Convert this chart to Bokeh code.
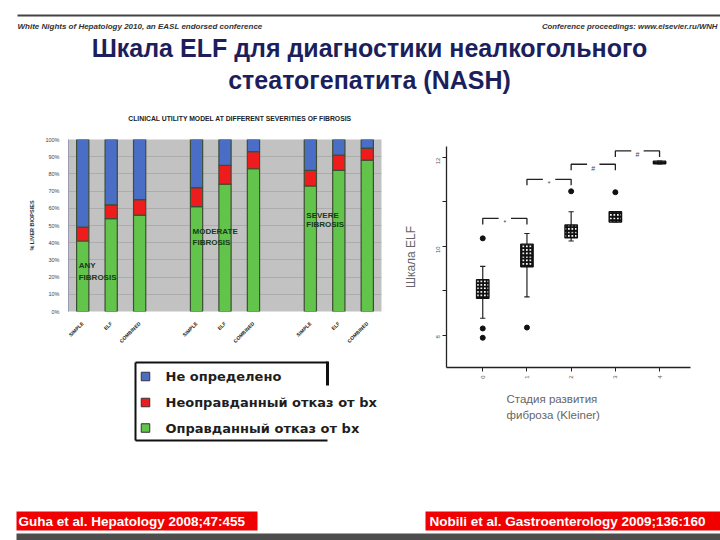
import math
from bokeh.plotting import figure
from bokeh.models import (Range1d, FactorRange, FixedTicker, PrintfTickFormatter,
                          Title, ColumnDataSource)
from bokeh.layouts import column, row
from bokeh.embed import file_html
from bokeh.resources import INLINE
from bokeh.core.properties import value

# ---------------- data ----------------
groups = ["ANY FIBROSIS", "MODERATE FIBROSIS", "SEVERE FIBROSIS"]
methods = ["SIMPLE", "ELF", "COMBINED"]
justified = [41, 54, 56, 61, 74, 83, 73, 82, 88]      # green
unjustified = [8, 8, 9, 11, 11, 10, 9, 9, 7]          # red
undetermined = [51, 38, 35, 28, 15, 7, 18, 9, 5]      # blue
stack_keys = ["justified", "unjustified", "undetermined"]
stack_colors = ["#62c44a", "#ee1c1c", "#4a6ec6"]
legend_labels = ["Не определено", "Неоправданный отказ от bx", "Оправданный отказ от bx"]
legend_colors = ["#4a6ec6", "#ee1c1c", "#62c44a"]
pct_ticks = [0, 10, 20, 30, 40, 50, 60, 70, 80, 90, 100]

stages = [0, 1, 2, 3, 4]
elf_q1 = [8.83, 9.54, 10.19, 10.55, 11.86]
elf_q3 = [9.25, 10.05, 10.48, 10.78, 11.92]
elf_med = [9.02, 9.78, 10.33, 10.66, 11.89]
elf_wlo = [8.38, 8.86, 10.12, 10.55, 11.86]
elf_whi = [9.55, 10.29, 10.78, 10.78, 11.92]
out_stage = [0, 0, 0, 1, 2, 3]
out_elf = [10.18, 8.15, 7.94, 8.17, 11.24, 11.22]
cmp_from = [0, 1, 2, 3]
cmp_to = [1, 2, 3, 4]
cmp_level = [10.63, 11.51, 11.85, 12.15]
cmp_mark = ["*", "*", "#", "#"]
elf_ticks = [8, 9, 10, 11, 12]

FONT = "Liberation Sans"


def blank(w, h, x0, x1, y0, y1, **kw):
    p = figure(width=w, height=h, x_range=Range1d(x0, x1), y_range=Range1d(y1, y0),
               x_axis_type=None, y_axis_type=None, min_border=0,
               toolbar_location=None, output_backend="svg",
               outline_line_color=None, background_fill_color="white",
               border_fill_color="white", **kw)
    return p


# ---------------- top (header + title) ----------------
top = blank(720, 130, 0, 720, 0, 130)
top.segment(x0=[17], y0=[15], x1=[720], y1=[15], line_width=2, line_color="#444444")
top.text(x=[17], y=[26], text=["White Nights of Hepatology 2010, an EASL endorsed conference"],
         text_font=value(FONT), text_font_size="8px", text_font_style="bold italic",
         text_color="#333333", text_baseline="middle", text_align="left")
top.text(x=[717], y=[26], text=["Conference proceedings: www.elsevier.ru/WNH"],
         text_font=value(FONT), text_font_size="7.8px", text_font_style="bold italic",
         text_color="#333333", text_baseline="middle", text_align="right")
top.text(x=[369, 369], y=[47, 79],
         text=["Шкала ELF для диагностики неалкогольного", "стеатогепатита (NASH)"],
         text_font=value(FONT), text_font_size="25px", text_font_style="bold",
         text_color="#1c1f5c", text_baseline="middle", text_align="center")
top.text(x=[239.5], y=[118], text=["CLINICAL UTILITY MODEL AT DIFFERENT SEVERITIES OF FIBROSIS"],
         text_font=value(FONT), text_font_size="6.8px", text_font_style="bold",
         text_color="#222222", text_baseline="middle", text_align="center")

# ---------------- stacked bar chart ----------------
factors = [(g, m) for g in groups for m in methods]
src = ColumnDataSource(dict(x=factors, justified=justified,
                            unjustified=unjustified, undetermined=undetermined))
bar = figure(width=400, height=218,
             x_range=FactorRange(factors=factors, group_padding=1.0, factor_padding=0.0,
                                 range_padding=0.0),
             y_range=Range1d(0, 100), toolbar_location=None, output_backend="svg",
             background_fill_color="#c2c2c2", border_fill_color="white",
             outline_line_color=None)
bar.min_border_left = 68
bar.min_border_right = 19
bar.min_border_top = 9
bar.min_border_bottom = 35
bar.vbar_stack(stack_keys, x="x", width=0.43, color=stack_colors, source=src,
               line_color="#3c4e34", line_width=1.2)
bar.xgrid.grid_line_color = None
bar.ygrid.ticker = FixedTicker(ticks=pct_ticks)
bar.ygrid.grid_line_color = "#acacac"
bar.ygrid.grid_line_width = 1
bar.yaxis.ticker = FixedTicker(ticks=pct_ticks)
bar.yaxis.formatter = PrintfTickFormatter(format="%d%%")
bar.yaxis.major_label_text_font_size = "5.5px"
bar.yaxis.major_label_text_font = FONT
bar.yaxis.major_label_text_color = "#444444"
bar.yaxis.major_tick_line_color = None
bar.yaxis.minor_tick_line_color = None
bar.yaxis.axis_line_color = "#9a9ab0"
bar.yaxis.major_label_standoff = 3
bar.yaxis.axis_label = "% LIVER BIOPSIES"
bar.yaxis.axis_label_text_font_size = "5.5px"
bar.yaxis.axis_label_text_font_style = "bold"
bar.yaxis.axis_label_text_font = FONT
bar.yaxis.axis_label_text_color = "#333333"
bar.yaxis.axis_label_standoff = 7
bar.xaxis.major_label_orientation = math.pi / 4
bar.xaxis.major_label_text_font_size = "5px"
bar.xaxis.major_label_text_font_style = "bold"
bar.xaxis.major_label_text_font = FONT
bar.xaxis.major_label_text_color = "#222222"
bar.xaxis.major_tick_line_color = None
bar.xaxis.minor_tick_line_color = None
bar.xaxis.axis_line_color = None
bar.xaxis.major_label_standoff = 5
bar.xaxis.group_text_font_size = "0px"
bar.xaxis.group_text_alpha = 0
bar.xaxis.separator_line_color = None

first_of_group = [(g, methods[0]) for g in groups]
bar.text(x=first_of_group, y=[26.6, 46.7, 56.1], text=[g.split()[0] for g in groups],
         x_offset=-4, text_font=value(FONT), text_font_size="8px", text_font_style="bold",
         text_color="#183a18", text_baseline="middle", text_align="left")
bar.text(x=first_of_group, y=[19.9, 40.4, 50.6], text=[g.split()[1] for g in groups],
         x_offset=-4, text_font=value(FONT), text_font_size="8px", text_font_style="bold",
         text_color="#183a18", text_baseline="middle", text_align="left")

# ---------------- legend (same side borders as the bar chart, 1 px = 1 unit) ----------------
leg = figure(width=400, height=94, x_range=Range1d(68, 381), y_range=Range1d(442, 348),
             x_axis_type=None, y_axis_type=None, toolbar_location=None,
             output_backend="svg", outline_line_color=None,
             background_fill_color="white", border_fill_color="white")
leg.min_border_left = 68
leg.min_border_right = 19
leg.min_border_top = 0
leg.min_border_bottom = 0
leg.segment(x0=[135, 135, 135], y0=[362, 362, 440], x1=[327, 135, 327], y1=[362, 440, 440],
            line_width=2, line_color="#111111")
leg.segment(x0=[327], y0=[361], x1=[327], y1=[385], line_width=3, line_color="#111111")
leg_y = [376, 402, 427.5]
leg.rect(x=[145] * 3, y=leg_y, width=8.5, height=8.5, fill_color=legend_colors,
         line_color="#333333", line_width=1)
leg.text(x=[165] * 3, y=leg_y, text=legend_labels, text_font=value("DejaVu Sans"),
         text_font_size="13px", text_font_style="bold", text_color="#1e1e1e",
         text_baseline="middle", text_align="left")

# ---------------- box plot ----------------
box = figure(width=320, height=312, x_range=Range1d(-0.82, 4.70),
             y_range=Range1d(7.27, 12.25), toolbar_location=None, output_backend="svg",
             background_fill_color="white", border_fill_color="white",
             outline_line_color=None)
box.min_border_left = 40
box.min_border_right = 30
box.min_border_top = 16
box.min_border_bottom = 75
box.grid.visible = False
hw = 0.14
cw = 0.06
box.segment(x0=stages, y0=elf_q3, x1=stages, y1=elf_whi, line_color="#222222", line_width=1.2)
box.segment(x0=stages, y0=elf_q1, x1=stages, y1=elf_wlo, line_color="#222222", line_width=1.2)
box.segment(x0=[s - cw for s in stages], y0=elf_whi, x1=[s + cw for s in stages], y1=elf_whi,
            line_color="#222222", line_width=1.2)
box.segment(x0=[s - cw for s in stages], y0=elf_wlo, x1=[s + cw for s in stages], y1=elf_wlo,
            line_color="#222222", line_width=1.2)
box.quad(left=[s - hw for s in stages], right=[s + hw for s in stages], bottom=elf_q1,
         top=elf_q3, fill_color="white", hatch_pattern="cross", hatch_color="#111111",
         hatch_scale=3.5, hatch_weight=2.2, line_color="#111111", line_width=1.4)
box.segment(x0=[s - hw for s in stages], y0=elf_med, x1=[s + hw for s in stages], y1=elf_med,
            line_color="#111111", line_width=1)
box.scatter(out_stage, out_elf, size=5, color="#111111")

drop = 0.135
arm = 0.36
br_xs, br_ys = [], []
for a, b, yb in zip(cmp_from, cmp_to, cmp_level):
    br_xs += [[a, a, a + arm], [b - arm, b, b]]
    br_ys += [[yb - drop, yb, yb], [yb, yb, yb - drop]]
box.multi_line(xs=br_xs, ys=br_ys, line_color="#222222", line_width=1.3)
box.text(x=[(a + b) / 2 for a, b in zip(cmp_from, cmp_to)],
         y=[yb - 0.09 for yb in cmp_level], text=cmp_mark, text_font=value(FONT),
         text_font_size="7px", text_color="#444444", text_baseline="middle",
         text_align="center")

for ax in (box.xaxis, box.yaxis):
    ax.axis_line_color = "#222222"
    ax.axis_line_width = 1.3
    ax.major_tick_line_color = "#222222"
    ax.major_tick_out = 4
    ax.major_tick_in = 0
    ax.minor_tick_line_color = None
    ax.major_label_text_font_size = "6px"
    ax.major_label_text_font = FONT
    ax.major_label_text_color = "#555555"
    ax.major_label_orientation = math.pi / 2
    ax.major_label_standoff = 4
box.xaxis.ticker = FixedTicker(ticks=stages)
box.yaxis.ticker = FixedTicker(ticks=elf_ticks)
box.yaxis.major_label_overrides = {9: "", 11: ""}
box.yaxis.axis_label = "Шкала ELF"
box.yaxis.axis_label_text_font = FONT
box.yaxis.axis_label_text_font_size = "12px"
box.yaxis.axis_label_text_font_style = "normal"
box.yaxis.axis_label_text_color = "#666666"
box.yaxis.axis_label_standoff = 14
box.add_layout(Title(text="Стадия развития\nфиброза (Kleiner)", align="left", offset=60,
                     standoff=19, text_font=FONT, text_font_size="11.5px",
                     text_line_height=1.3, text_font_style="normal",
                     text_color="#666666"), "below")

# ---------------- footer ----------------
bot = blank(720, 98, 0, 720, 442, 540)
bot.quad(left=[16, 425], right=[257, 720], top=[511, 511], bottom=[530, 530],
         fill_color="#f00000", line_color=None)
bot.text(x=[18, 429], y=[520.5, 520.5],
         text=["Guha et al. Hepatology 2008;47:455", "Nobili et al. Gastroenterology 2009;136:160"],
         text_font=value(FONT), text_font_size="13.5px", text_font_style="bold",
         text_color="white", text_baseline="middle", text_align="left")
bot.quad(left=[16], right=[720], top=[533], bottom=[540], fill_color="#4d4d4d",
         line_color=None)

layout = column(top, row(column(bar, leg), box), bot)
open("out.html", "w").write(file_html(layout, INLINE))
